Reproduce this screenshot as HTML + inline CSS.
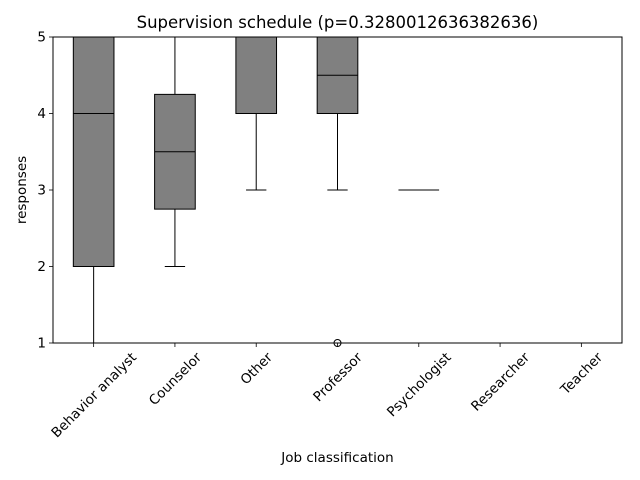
<!DOCTYPE html>
<html><head><meta charset="utf-8"><style>
body{margin:0;background:#fff}
svg{display:block;font-family:"DejaVu Sans","Liberation Sans",sans-serif}
</style></head><body>
<svg id="c" width="640" height="480"></svg>
<script>
const categories=["Behavior analyst","Counselor","Other","Professor","Psychologist","Researcher","Teacher"];
const whiskerLow=[1,2,3,3,3,5,5];
const q1=[2,2.75,4,4,3,5,5];
const medians=[4,3.5,4,4.5,3,5,5];
const q3=[5,4.25,5,5,3,5,5];
const whiskerHigh=[5,5,5,5,3,5,5];
const outliers=[[],[],[],[1],[],[],[]];
const yTicks=[1,2,3,4,5];
const L=53,R=622,T=37,B=343;
const FS=13.5;
const ns="http://www.w3.org/2000/svg";
const svg=document.getElementById('c');
const step=(R-L)/categories.length;
const x=i=>L+step*(i+0.5);
const y=v=>B-(v-1)/(5-1)*(B-T);
function add(tag,attrs,text){const e=document.createElementNS(ns,tag);for(const k in attrs)e.setAttribute(k,attrs[k]);if(text!==undefined)e.textContent=text;svg.appendChild(e);return e;}
const bw=step*0.5;
categories.forEach((c,i)=>{
  const cx=x(i);
  let e=add('line',{x1:cx,x2:cx,y1:y(whiskerLow[i]),y2:y(q1[i]),stroke:'#000','stroke-width':1});
  
  e=add('line',{x1:cx,x2:cx,y1:y(q3[i]),y2:y(whiskerHigh[i]),stroke:'#000','stroke-width':1});
  
  e=add('line',{x1:cx-bw/4,x2:cx+bw/4,y1:y(whiskerLow[i]),y2:y(whiskerLow[i]),stroke:'#000','stroke-width':1});
  
  e=add('line',{x1:cx-bw/4,x2:cx+bw/4,y1:y(whiskerHigh[i]),y2:y(whiskerHigh[i]),stroke:'#000','stroke-width':1});
  
  e=add('rect',{x:cx-bw/2,y:y(q3[i]),width:bw,height:Math.max(0,y(q1[i])-y(q3[i])),fill:'#808080',stroke:'#000','stroke-width':1});
  
  e=add('line',{x1:cx-bw/2,x2:cx+bw/2,y1:y(medians[i]),y2:y(medians[i]),stroke:'#000','stroke-width':1});
  
  outliers[i].forEach(o=>{
    const p=add('circle',{cx:cx,cy:y(o),r:3.5,fill:'none',stroke:'#000','stroke-width':1});
    
  });
  e=add('line',{x1:cx,x2:cx,y1:B,y2:B+4,stroke:'#000','stroke-width':0.8});
  
  e=add('text',{x:0,y:FS*0.35,'font-size':FS,'text-anchor':'middle'},c);
  
  const w=e.getComputedTextLength(), h=FS;
  const bh=(w+h)*Math.SQRT1_2;
  e.setAttribute('transform',`translate(${cx},${B+7+bh/2}) rotate(-45)`);
});
yTicks.forEach(t=>{
  let e=add('line',{x1:L-4,x2:L,y1:y(t),y2:y(t),stroke:'#000','stroke-width':0.8});
  
  e=add('text',{x:L-7,y:y(t)+4.5,'font-size':FS,'text-anchor':'end'},t);
  
});
let f=add('rect',{x:L,y:T,width:R-L,height:B-T,fill:'none',stroke:'#000','stroke-width':1});

f=add('text',{x:(L+R)/2,y:28,'font-size':16.5,'text-anchor':'middle'},'Supervision schedule (p=0.3280012636382636)');

f=add('text',{x:(L+R)/2,y:462,'font-size':FS,'text-anchor':'middle'},'Job classification');

f=add('text',{x:0,y:0,'font-size':FS,'text-anchor':'middle',transform:`translate(26,${(T+B)/2}) rotate(-90)`},'responses');

</script>
</body></html>
